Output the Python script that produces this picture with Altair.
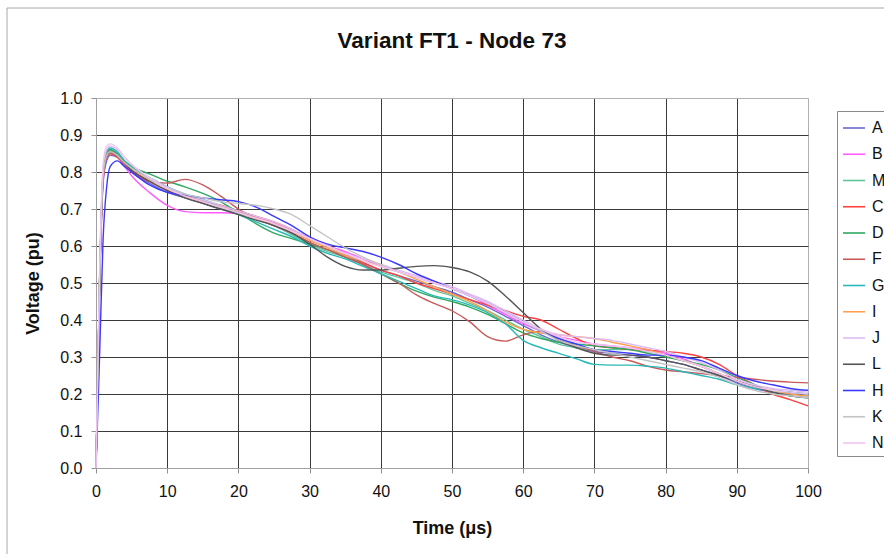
import altair as alt
import pandas as pd

# Sample times (microseconds)
time_us = [0, 0.5, 1, 1.5, 2, 3, 4, 5,
           7.5, 10, 12.5, 15, 17.5, 20, 22.5, 25, 27.5, 30,
           32.5, 35, 37.5, 40, 42.5, 45, 47.5, 50, 52.5, 55,
           57.5, 60, 62.5, 65, 67.5, 70, 72.5, 75, 77.5, 80,
           82.5, 85, 87.5, 90, 92.5, 95, 97.5, 100]

# Voltage (pu) at node 73 for each case
v_A = [0, 0.48, 0.77, 0.83, 0.845, 0.84, 0.82, 0.80,
       0.77, 0.745, 0.73, 0.715, 0.70, 0.69, 0.675, 0.655, 0.635, 0.61,
       0.59, 0.575, 0.555, 0.535, 0.52, 0.505, 0.49, 0.475, 0.455, 0.435,
       0.41, 0.385, 0.36, 0.34, 0.325, 0.315, 0.31, 0.305, 0.30, 0.29,
       0.28, 0.265, 0.25, 0.23, 0.215, 0.205, 0.20, 0.195]
v_B = [0, 0.5, 0.79, 0.845, 0.86, 0.845, 0.815, 0.79,
       0.745, 0.71, 0.693, 0.69, 0.69, 0.688, 0.678, 0.662, 0.642, 0.62,
       0.60, 0.585, 0.565, 0.545, 0.53, 0.515, 0.50, 0.485, 0.465, 0.44,
       0.415, 0.39, 0.37, 0.355, 0.345, 0.335, 0.33, 0.325, 0.32, 0.31,
       0.295, 0.275, 0.255, 0.235, 0.22, 0.21, 0.205, 0.20]
v_M = [0, 0.5, 0.79, 0.845, 0.86, 0.85, 0.83, 0.815,
       0.785, 0.76, 0.74, 0.725, 0.71, 0.695, 0.675, 0.655, 0.63, 0.605,
       0.585, 0.57, 0.55, 0.53, 0.515, 0.50, 0.48, 0.465, 0.445, 0.425,
       0.40, 0.375, 0.355, 0.335, 0.325, 0.32, 0.32, 0.32, 0.315, 0.305,
       0.29, 0.275, 0.255, 0.235, 0.22, 0.21, 0.205, 0.20]
v_C = [0, 0.5, 0.78, 0.84, 0.85, 0.84, 0.82, 0.805,
       0.775, 0.75, 0.735, 0.72, 0.71, 0.695, 0.68, 0.665, 0.645, 0.62,
       0.60, 0.58, 0.555, 0.535, 0.52, 0.50, 0.485, 0.47, 0.455, 0.44,
       0.425, 0.41, 0.40, 0.375, 0.35, 0.33, 0.325, 0.32, 0.318, 0.315,
       0.31, 0.30, 0.28, 0.25, 0.225, 0.20, 0.185, 0.168]
v_D = [0, 0.5, 0.79, 0.85, 0.86, 0.85, 0.83, 0.815,
       0.795, 0.775, 0.76, 0.742, 0.72, 0.69, 0.66, 0.635, 0.62, 0.605,
       0.59, 0.57, 0.55, 0.525, 0.50, 0.478, 0.462, 0.45, 0.435, 0.415,
       0.39, 0.365, 0.35, 0.34, 0.335, 0.33, 0.325, 0.32, 0.31, 0.30,
       0.29, 0.28, 0.265, 0.245, 0.225, 0.205, 0.195, 0.19]
v_F = [0, 0.49, 0.78, 0.84, 0.85, 0.84, 0.82, 0.80,
       0.775, 0.77, 0.78, 0.765, 0.735, 0.70, 0.675, 0.655, 0.635, 0.61,
       0.59, 0.57, 0.55, 0.525, 0.50, 0.468, 0.445, 0.425, 0.395, 0.355,
       0.343, 0.36, 0.37, 0.345, 0.33, 0.315, 0.30, 0.29, 0.275, 0.265,
       0.26, 0.255, 0.25, 0.245, 0.24, 0.235, 0.232, 0.23]
v_G = [0, 0.5, 0.80, 0.855, 0.865, 0.855, 0.83, 0.815,
       0.785, 0.76, 0.74, 0.725, 0.705, 0.685, 0.665, 0.645, 0.625, 0.60,
       0.58, 0.565, 0.545, 0.525, 0.505, 0.485, 0.465, 0.455, 0.44, 0.42,
       0.39, 0.345, 0.325, 0.31, 0.295, 0.28, 0.278, 0.278, 0.275, 0.27,
       0.26, 0.25, 0.24, 0.225, 0.215, 0.21, 0.205, 0.20]
v_I = [0, 0.5, 0.79, 0.845, 0.855, 0.845, 0.825, 0.81,
       0.78, 0.755, 0.735, 0.72, 0.705, 0.69, 0.675, 0.66, 0.64, 0.615,
       0.595, 0.575, 0.56, 0.545, 0.53, 0.51, 0.49, 0.47, 0.45, 0.425,
       0.395, 0.375, 0.365, 0.36, 0.355, 0.35, 0.34, 0.33, 0.32, 0.305,
       0.29, 0.275, 0.255, 0.235, 0.22, 0.21, 0.20, 0.195]
v_J = [0, 0.52, 0.81, 0.86, 0.87, 0.86, 0.84, 0.82,
       0.785, 0.76, 0.74, 0.725, 0.71, 0.695, 0.68, 0.665, 0.645, 0.62,
       0.60, 0.58, 0.565, 0.55, 0.535, 0.52, 0.505, 0.49, 0.47, 0.45,
       0.425, 0.40, 0.375, 0.36, 0.355, 0.35, 0.345, 0.335, 0.325, 0.315,
       0.30, 0.285, 0.265, 0.24, 0.225, 0.215, 0.21, 0.205]
v_L = [0, 0.5, 0.79, 0.845, 0.855, 0.845, 0.825, 0.805,
       0.775, 0.75, 0.73, 0.715, 0.70, 0.685, 0.67, 0.655, 0.635, 0.605,
       0.57, 0.545, 0.535, 0.535, 0.54, 0.545, 0.547, 0.542, 0.53, 0.505,
       0.465, 0.42, 0.375, 0.345, 0.325, 0.31, 0.305, 0.305, 0.30, 0.29,
       0.28, 0.265, 0.25, 0.235, 0.22, 0.205, 0.195, 0.19]
v_H = [0, 0.30, 0.62, 0.76, 0.815, 0.83, 0.815, 0.80,
       0.765, 0.745, 0.738, 0.73, 0.725, 0.72, 0.705, 0.68, 0.655, 0.625,
       0.605, 0.595, 0.585, 0.57, 0.55, 0.525, 0.505, 0.485, 0.465, 0.445,
       0.42, 0.395, 0.37, 0.35, 0.335, 0.32, 0.315, 0.31, 0.305, 0.305,
       0.30, 0.29, 0.27, 0.25, 0.235, 0.225, 0.215, 0.21]
v_K = [0, 0.5, 0.79, 0.845, 0.855, 0.845, 0.825, 0.81,
       0.78, 0.755, 0.74, 0.73, 0.72, 0.715, 0.71, 0.70, 0.685, 0.655,
       0.625, 0.595, 0.57, 0.55, 0.53, 0.515, 0.50, 0.485, 0.465, 0.445,
       0.42, 0.395, 0.37, 0.345, 0.33, 0.32, 0.31, 0.30, 0.29, 0.28,
       0.27, 0.26, 0.245, 0.225, 0.21, 0.20, 0.195, 0.19]
v_N = [0, 0.53, 0.82, 0.87, 0.876, 0.865, 0.84, 0.82,
       0.785, 0.755, 0.735, 0.72, 0.705, 0.69, 0.675, 0.66, 0.64, 0.62,
       0.60, 0.58, 0.56, 0.545, 0.53, 0.515, 0.50, 0.485, 0.465, 0.445,
       0.42, 0.395, 0.375, 0.355, 0.34, 0.335, 0.33, 0.325, 0.315, 0.305,
       0.29, 0.275, 0.255, 0.235, 0.22, 0.21, 0.205, 0.20]

case_names = ["A", "B", "M", "C", "D", "F", "G", "I", "J", "L", "H", "K", "N"]
case_values = [v_A, v_B, v_M, v_C, v_D, v_F, v_G, v_I, v_J, v_L, v_H, v_K, v_N]
case_colors = ["#6b6bd0", "#ff5cff", "#5fc79a", "#ff4040", "#2fa862", "#c85a5a",
               "#2ab8b8", "#ffa050", "#dcbcf2", "#555555", "#3a3aff", "#c4c4c4",
               "#f0c4f0"]

chart_title = "Variant FT1 - Node 73"

rows = []
for name, vals in zip(case_names, case_values):
    assert len(vals) == len(time_us), name
    for t, v in zip(time_us, vals):
        rows.append({"case": name, "time": t, "voltage": v})
df = pd.DataFrame(rows)

FONT = "Liberation Sans, Arial, sans-serif"
edge_grid = {"condition": {"test": "datum.value == 0 || datum.value == 1 || datum.value == 100",
                           "value": "#b0b0b0"},
             "value": "#3a3a3a"}

lines = alt.Chart(df).mark_line(strokeWidth=1.4, interpolate="monotone").encode(
    x=alt.X("time:Q",
            scale=alt.Scale(domain=[0, 100], nice=False, zero=True),
            axis=alt.Axis(values=list(range(0, 101, 10)), title="Time (μs)",
                          grid=True, gridColor=edge_grid, gridWidth=1,
                          domainColor="#a0a0a0", tickColor="#909090", tickSize=5,
                          labelFont=FONT, labelFontSize=16, labelColor="#111",
                          labelPadding=10, labelFlush=False,
                          titleFont=FONT, titleFontSize=18, titleFontWeight="bold",
                          titleColor="#111", titleX=356, titleY=60,
                          titleBaseline="middle", titleAlign="center")),
    y=alt.Y("voltage:Q",
            scale=alt.Scale(domain=[0, 1], nice=False),
            axis=alt.Axis(values=[i / 10 for i in range(11)], format=".1f",
                          title="Voltage (pu)",
                          grid=True, gridColor=edge_grid, gridWidth=1,
                          domainColor="#a0a0a0", tickColor="#909090", tickSize=5,
                          labelFont=FONT, labelFontSize=16, labelColor="#111",
                          labelPadding=9, labelFlush=False,
                          titleFont=FONT, titleFontSize=18, titleFontWeight="bold",
                          titleColor="#111", titleX=-63, titleY=185,
                          titleBaseline="middle", titleAlign="center",
                          titleAngle=270)),
    color=alt.Color("case:N",
                    scale=alt.Scale(domain=case_names, range=case_colors),
                    sort=case_names,
                    legend=alt.Legend(title=None, orient="none", legendX=741, legendY=13,
                                      symbolType="stroke", symbolSize=484,
                                      symbolStrokeWidth=1.6, rowPadding=6.25,
                                      labelFont=FONT, labelFontSize=16,
                                      labelColor="#111", labelOffset=6,
                                      padding=5, strokeColor="#8a8a8a",
                                      fillColor="white")),
    detail="case:N",
)

# light outer frame around the whole figure
frame = alt.Chart(alt.Data(values=[{}])).mark_rect(
    fill="transparent", stroke="#a8a8a8", strokeWidth=1
).encode(x=alt.value(-89), x2=alt.value(820), y=alt.value(-90), y2=alt.value(480))

# heading, centred over the plot area
heading = alt.Chart(alt.Data(values=[{"label": chart_title}])).mark_text(
    font=FONT, fontSize=22.5, fontWeight="bold", color="#111",
    align="center", baseline="alphabetic"
).encode(text="label:N", x=alt.value(356), y=alt.value(-50))

chart = alt.layer(frame, lines, heading).properties(
    width=712, height=370,
    autosize=alt.AutoSizeParams(type="none"),
    padding={"left": 96, "top": 98, "right": 76, "bottom": 86},
).configure_view(stroke="#b0b0b0", strokeWidth=1).configure(background="white")

chart.save("out.html", embed_options={"renderer": "svg", "actions": False})
